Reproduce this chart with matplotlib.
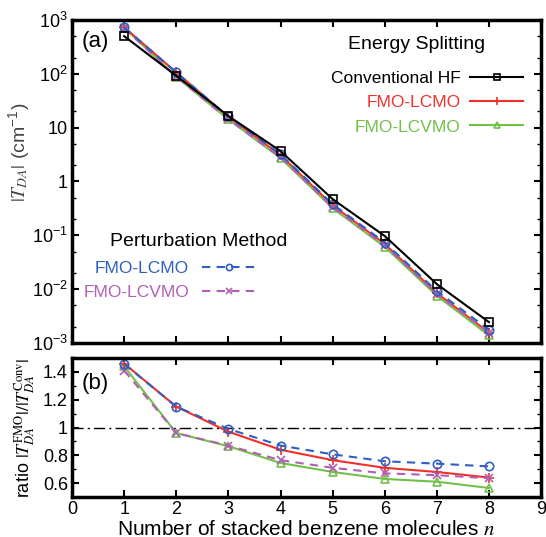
import matplotlib
matplotlib.use("Agg")
import matplotlib.pyplot as plt
from matplotlib.ticker import FixedLocator, LogLocator, MultipleLocator, NullFormatter

plt.rcParams['font.family'] = ['Liberation Sans', 'DejaVu Sans']
plt.rcParams['mathtext.fontset'] = 'stix'

n = [1, 2, 3, 4, 5, 6, 7, 8]

# |T_DA| (cm^-1)
conv_hf = [500, 92, 16.4, 3.67, 0.47, 0.097, 0.0124, 0.00244]
fmo_lcmo = [730, 106, 15.9, 3.08, 0.36, 0.069, 0.0084, 0.00156]
fmo_lcvmo = [720, 88, 14.2, 2.73, 0.32, 0.061, 0.00756, 0.00138]
pert_lcmo = [728, 106, 16.2, 3.19, 0.379, 0.0734, 0.00918, 0.00176]
pert_lcvmo = [705, 88, 14.3, 2.81, 0.334, 0.065, 0.00815, 0.00155]

# ratio |T_DA^FMO| / |T_DA^Conv|
ratio_lcmo = [1.46, 1.15, 0.97, 0.84, 0.765, 0.71, 0.68, 0.64]
ratio_lcvmo = [1.44, 0.96, 0.865, 0.745, 0.68, 0.63, 0.61, 0.565]
ratio_pert_lcmo = [1.457, 1.15, 0.99, 0.87, 0.807, 0.757, 0.74, 0.72]
ratio_pert_lcvmo = [1.41, 0.96, 0.87, 0.765, 0.71, 0.67, 0.657, 0.635]

x_ticks = [0, 1, 2, 3, 4, 5, 6, 7, 8, 9]
log_ticks = [1e-3, 1e-2, 1e-1, 1, 10, 1e2, 1e3]
log_labels = [r'$\mathregular{10^{-3}}$', r'$\mathregular{10^{-2}}$', r'$\mathregular{10^{-1}}$',
              '1', '10', r'$\mathregular{10^{2}}$', r'$\mathregular{10^{3}}$']
ratio_ticks = [0.6, 0.8, 1.0, 1.2, 1.4]
ratio_labels = ['0.6', '0.8', '1', '1.2', '1.4']

BLACK = '#000000'
RED = '#f0302a'
GREEN = '#72c04a'
BLUE = '#2f5fc0'
PURPLE = '#b060b4'

fig = plt.figure(figsize=(5.46, 5.37), dpi=100)
ax1 = fig.add_axes([0.132, 0.3613, 0.859, 0.6015])
ax2 = fig.add_axes([0.132, 0.0745, 0.859, 0.2588])

lw = 1.5
ms = 6
s_conv = dict(color=BLACK, lw=lw, marker='s', ms=ms, mfc='none', mew=1.2)
s_lcmo = dict(color=RED, lw=lw, marker='+', ms=ms + 1, mew=1.2)
s_lcvmo = dict(color=GREEN, lw=lw, marker='^', ms=ms, mfc='none', mew=1.2)
s_plcmo = dict(color=BLUE, lw=lw, ls=(0, (4, 3)), marker='o', ms=ms, mfc='none', mew=1.2)
s_plcvmo = dict(color=PURPLE, lw=lw, ls=(0, (4, 3)), marker='x', ms=ms, mew=1.2)

l_lcvmo, = ax1.plot(n, fmo_lcvmo, **s_lcvmo, label='FMO-LCVMO')
l_lcmo, = ax1.plot(n, fmo_lcmo, **s_lcmo, label='FMO-LCMO')
l_plcvmo, = ax1.plot(n, pert_lcvmo, **s_plcvmo, label='FMO-LCVMO')
l_plcmo, = ax1.plot(n, pert_lcmo, **s_plcmo, label='FMO-LCMO')
l_conv, = ax1.plot(n, conv_hf, **s_conv, label='Conventional HF')

ax1.set_yscale('log')
ax1.set_ylim(1e-3, 1e3)
ax1.set_xlim(0, 9)
ax1.yaxis.set_major_locator(FixedLocator(log_ticks))
ax1.set_yticklabels(log_labels)
ax1.yaxis.set_minor_locator(LogLocator(base=10, subs=[2, 5]))
ax1.yaxis.set_minor_formatter(NullFormatter())
ax1.xaxis.set_major_locator(FixedLocator(x_ticks))
ax1.set_xticklabels([])
ax1.set_ylabel(r'$|T_{DA}|$ (cm$^{\mathregular{-1}}$)', fontsize=14, color='#444444')
ax1.yaxis.set_label_coords(-0.083, 0.59)
ax1.text(0.02, 0.915, '(a)', transform=ax1.transAxes, fontsize=16)

# legend titles as separate text
ax1.text(0.735, 0.923, 'Energy Splitting', transform=ax1.transAxes, fontsize=14,
         ha='center', va='center')
ax1.text(0.27, 0.313, 'Perturbation Method', transform=ax1.transAxes, fontsize=14,
         ha='center', va='center')

leg1 = ax1.legend(handles=[l_conv, l_lcmo, l_lcvmo], loc='upper right',
                  bbox_to_anchor=(0.962, 0.842), markerfirst=False, frameon=False,
                  fontsize=12.5, borderpad=0, borderaxespad=0, markerscale=0.75,
                  labelcolor='linecolor', handlelength=3.05, labelspacing=0.52,
                  handletextpad=0.57)
ax1.add_artist(leg1)
leg2 = ax1.legend(handles=[l_plcmo, l_plcvmo], loc='upper right',
                  bbox_to_anchor=(0.390, 0.254), markerfirst=False, frameon=False,
                  fontsize=12.5, borderpad=0, borderaxespad=0, markerscale=0.75,
                  labelcolor='linecolor', handlelength=3.05, labelspacing=0.52,
                  handletextpad=0.75)

ax2.axhline(1.0, color=BLACK, lw=1.0, ls=(0, (8, 3, 1.5, 3)))
ax2.plot(n, ratio_lcvmo, **s_lcvmo)
ax2.plot(n, ratio_lcmo, **s_lcmo)
ax2.plot(n, ratio_pert_lcvmo, **s_plcvmo)
ax2.plot(n, ratio_pert_lcmo, **s_plcmo)
ax2.set_xlim(0, 9)
ax2.set_ylim(0.5, 1.5)
ax2.xaxis.set_major_locator(FixedLocator(x_ticks))
ax2.yaxis.set_major_locator(FixedLocator(ratio_ticks))
ax2.set_yticklabels(ratio_labels)
ax2.yaxis.set_minor_locator(MultipleLocator(0.1))
ax2.set_xlabel(r'Number of stacked benzene molecules $n$', fontsize=15, labelpad=1)
ax2.set_ylabel(r'ratio $|T_{DA}^{\mathrm{FMO}}|/|T_{DA}^{\mathrm{Conv}}|$', fontsize=13, labelpad=4)
ax2.text(0.02, 0.78, '(b)', transform=ax2.transAxes, fontsize=16)

for ax in (ax1, ax2):
    for sp in ax.spines.values():
        sp.set_linewidth(2.5)
    ax.tick_params(which='both', direction='in', top=True, right=True, labelsize=13, pad=3)
    ax.tick_params(which='major', length=5, width=1.5)
    ax.tick_params(which='minor', length=3, width=1.0)

fig.savefig('out.png', dpi=100)
